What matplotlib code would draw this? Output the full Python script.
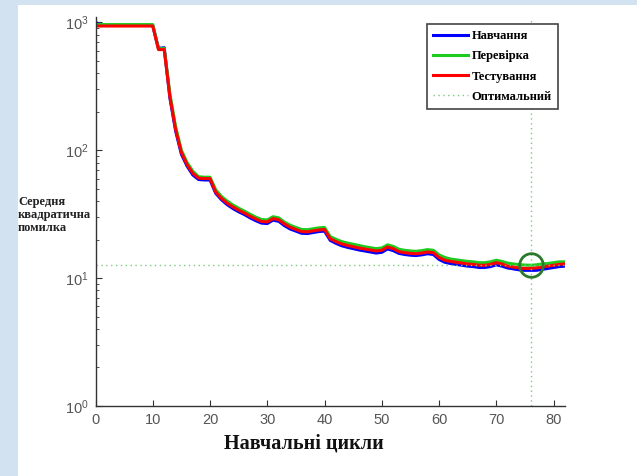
import numpy as np
import matplotlib.pyplot as plt
from matplotlib.patches import Rectangle

# mean squared error per training epoch (0..82)
epochs = np.arange(0, 83)

train_mse = [1000] + [945] * 10 + [
    625, 633, 255, 141, 93, 75, 64, 59, 58.5, 58.5,
    46, 41, 37.5, 35, 33, 31.4, 29.6, 28.1, 26.9, 26.7,
    28.4, 27.8, 25.7, 24.2, 23.3, 22.4, 22.3, 22.7, 23.1, 23.3,
    19.7, 18.7, 17.9, 17.4, 17.0, 16.6, 16.3, 16.0, 15.7, 15.9,
    16.9, 16.4, 15.6, 15.3, 15.1, 15.0, 15.2, 15.5, 15.3, 14.0,
    13.3, 13.0, 12.8, 12.6, 12.4, 12.3, 12.1, 12.1, 12.3, 12.7,
    12.4, 12.0, 11.8, 11.6, 11.5, 11.5, 11.5, 11.7, 11.9, 12.1,
    12.3, 12.4]

valid_mse = [960] * 11 + [
    620, 625, 275, 152, 100, 80, 68.5, 62, 61.5, 61.5,
    49, 43.5, 40, 37.3, 35.2, 33.4, 31.6, 30, 28.7, 28.5,
    30.2, 29.6, 27.4, 25.9, 24.9, 24, 23.9, 24.3, 24.7, 24.9,
    21.1, 20.1, 19.3, 18.8, 18.4, 18.0, 17.6, 17.3, 17.0, 17.2,
    18.2, 17.7, 16.8, 16.5, 16.3, 16.2, 16.4, 16.7, 16.5, 15.2,
    14.5, 14.1, 13.9, 13.7, 13.5, 13.4, 13.2, 13.2, 13.4, 13.8,
    13.5, 13.1, 12.9, 12.75, 12.65, 12.6, 12.7, 12.9, 13.0, 13.2,
    13.4, 13.4]

test_mse = [935] * 11 + [
    612, 612, 261, 145, 96, 77, 66, 60.5, 60, 60,
    47, 42, 38.5, 36, 34, 32.3, 30.5, 29, 27.7, 27.5,
    29.2, 28.6, 26.5, 25, 24, 23.1, 23, 23.4, 23.8, 24,
    20.3, 19.3, 18.5, 18, 17.6, 17.2, 16.9, 16.6, 16.3, 16.5,
    17.5, 17.0, 16.1, 15.8, 15.6, 15.5, 15.7, 16.0, 15.8, 14.5,
    13.8, 13.5, 13.3, 13.1, 12.9, 12.8, 12.6, 12.6, 12.8, 13.2,
    12.9, 12.4, 12.2, 12.0, 11.9, 11.9, 12.0, 12.2, 12.4, 12.6,
    12.8, 12.9]

best_epoch = 76
best_mse = valid_mse[best_epoch]

series_names = ['Навчання', 'Перевірка', 'Тестування', 'Оптимальний']

fig = plt.figure(figsize=(6.37, 4.76), dpi=100, facecolor='#d3e2f1')
# white page over the light blue slide background
fig.patches.append(Rectangle((18 / 637, 0), 1, 1 - 5 / 476,
                             transform=fig.transFigure, facecolor='white',
                             edgecolor='none', zorder=-10))

ax = fig.add_axes([95.5 / 637, 1 - 406 / 476, 469.5 / 637, 389 / 476])
ax.set_facecolor('white')

ax.plot(epochs, train_mse, color='#0000ff', lw=2.2, label=series_names[0])
ax.plot(epochs, valid_mse, color='#1ecb1e', lw=2.2, label=series_names[1])
ax.plot(epochs, test_mse, color='#ff0000', lw=2.2, label=series_names[2])

ax.axvline(best_epoch, color='#7ccb7c', lw=1, ls=(0, (1, 2.5)), label=series_names[3])
ax.axhline(best_mse, color='#7ccb7c', lw=1, ls=(0, (1, 2.5)))
ax.plot(best_epoch, best_mse, 'o', ms=17, mfc='none', mec='#2b7a2b', mew=2)

ax.set_yscale('log')
ax.set_xlim(0, 82)
ax.set_ylim(1, 1100)
ax.set_xticks(range(0, 81, 10))

for side in ['top', 'right']:
    ax.spines[side].set_visible(False)
for side in ['left', 'bottom']:
    ax.spines[side].set_color('#333333')
    ax.spines[side].set_linewidth(1)

ax.tick_params(which='major', direction='in', length=4, color='#333333',
               labelcolor='#555555', labelsize=10.5, pad=5)
ax.tick_params(which='minor', direction='in', length=2, color='#333333')
for lab in ax.get_xticklabels() + ax.get_yticklabels():
    lab.set_fontfamily('Liberation Sans')

leg = ax.legend(loc='upper right', bbox_to_anchor=(0.985, 0.982),
                borderaxespad=0, fancybox=False, framealpha=1,
                edgecolor='#444444', handlelength=2.8, handletextpad=0.3,
                labelspacing=0.65, borderpad=0.5,
                prop={'family': 'Liberation Serif', 'weight': 'bold', 'size': 9})
leg.get_frame().set_linewidth(1.2)

fig.text(304 / 637, 1 - 443 / 476, 'Навчальні цикли', ha='center', va='center',
         fontfamily='Liberation Serif', fontweight='bold', fontsize=14.5, color='#111111')
fig.text(18 / 637, 1 - 215 / 476, 'Середня\nквадратична\nпомилка', ha='left',
         va='center', fontfamily='Liberation Serif', fontweight='bold', fontsize=9,
         color='#222222', linespacing=1.15)

fig.savefig('out.png', dpi=100, facecolor=fig.get_facecolor())
